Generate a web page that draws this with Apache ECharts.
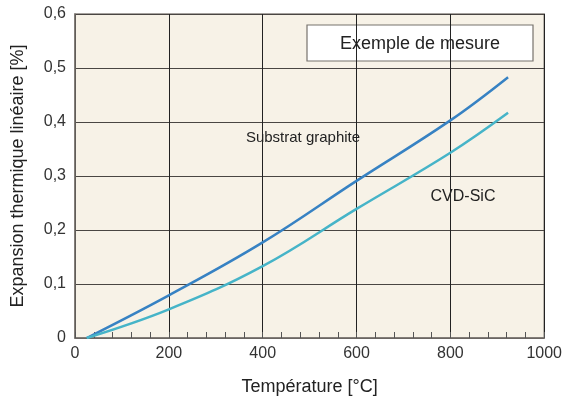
<!DOCTYPE html>
<html lang="fr">
<head>
    <meta charset="utf-8">
    <title>Expansion thermique</title>
    <style>
        body { margin: 0; overflow: hidden; background: #fff; }
    </style>
</head>
<body>
	<div id="chart-container" style="width: 565px; height: 405px;"></div>

	<script src="https://cdn.jsdelivr.net/npm/echarts@6/dist/echarts.min.js"></script>
	<script>
		// données (température °C, expansion %)
		var graphiteTemp = [25, 200, 400, 600, 800, 923];
		var graphiteExp  = [0, 0.079, 0.177, 0.291, 0.403, 0.483];
		var sicTemp = [25, 200, 400, 600, 800, 923];
		var sicExp  = [0, 0.053, 0.133, 0.239, 0.343, 0.417];

		var xTicks = [0, 200, 400, 600, 800, 1000];
		var yTicks = [0, 0.1, 0.2, 0.3, 0.4, 0.5, 0.6];

		function pairs(xs, ys) {
			return xs.map(function (x, i) { return [x, ys[i]]; });
		}

		var chart = echarts.init(document.getElementById('chart-container'));
		var font = '"Liberation Sans", Arial, sans-serif';

		chart.setOption({
			animation: false,
			grid: {
				left: 75, right: 19, top: 14, bottom: 67,
				show: true,
				backgroundColor: '#f7f2e7',
				borderColor: '#8a8580',
				borderWidth: 1.5
			},
			xAxis: {
				type: 'value',
				min: xTicks[0], max: xTicks[xTicks.length - 1], interval: 200,
				name: 'Température [°C]',
				nameLocation: 'middle', nameGap: 40,
				nameTextStyle: { fontFamily: font, fontSize: 18, color: '#222' },
				axisLine: { lineStyle: { color: '#77726d', width: 1.5 } },
				axisTick: { show: true, inside: true, length: 6, lineStyle: { color: '#555' } },
				minorTick: { show: true, splitNumber: 5, length: 6, lineStyle: { color: '#555', width: 1 } },
				axisLabel: {
					fontFamily: font, fontSize: 16, color: '#333', margin: 8,
					formatter: function (v) { return String(v); }
				},
				splitLine: { lineStyle: { color: '#222', width: 1 } }
			},
			yAxis: {
				type: 'value',
				min: yTicks[0], max: yTicks[yTicks.length - 1], interval: 0.1,
				name: 'Expansion thermique linéaire [%]',
				nameLocation: 'middle', nameGap: 48,
				nameTextStyle: { fontFamily: font, fontSize: 18, color: '#222' },
				axisLine: { show: true, lineStyle: { color: '#77726d', width: 1.5 } },
				axisTick: { show: false },
				axisLabel: {
					fontFamily: font, fontSize: 16, color: '#333', margin: 9,
					formatter: function (v) { return v === 0 ? '0' : v.toFixed(1).replace('.', ','); }
				},
				splitLine: { lineStyle: { color: '#4a4643', width: 1 } }
			},
			series: [
				{
					name: 'Substrat graphite',
					type: 'line', smooth: 0.4, showSymbol: false,
					data: pairs(graphiteTemp, graphiteExp),
					lineStyle: { color: '#3782c3', width: 2.5 }
				},
				{
					name: 'CVD-SiC',
					type: 'line', smooth: 0.4, showSymbol: false,
					data: pairs(sicTemp, sicExp),
					lineStyle: { color: '#46b4c8', width: 2.5 }
				}
			],
			graphic: [
				{
					type: 'rect', shape: { x: 307, y: 25, width: 226, height: 36 },
					style: { fill: '#fff', stroke: '#77726d', lineWidth: 1.2 }
				},
				{
					type: 'text', x: 420, y: 44,
					style: { text: 'Exemple de mesure', font: '18px ' + font, fill: '#222', align: 'center', verticalAlign: 'middle' }
				},
				{
					type: 'text', x: 303, y: 138,
					style: { text: 'Substrat graphite', font: '15px ' + font, fill: '#222', align: 'center', verticalAlign: 'middle' }
				},
				{
					type: 'text', x: 463, y: 197,
					style: { text: 'CVD-SiC', font: '16px ' + font, fill: '#222', align: 'center', verticalAlign: 'middle', backgroundColor: '#f7f2e7', padding: [2, 0] }
				}
			]
		});
	</script>
</body>
</html>
